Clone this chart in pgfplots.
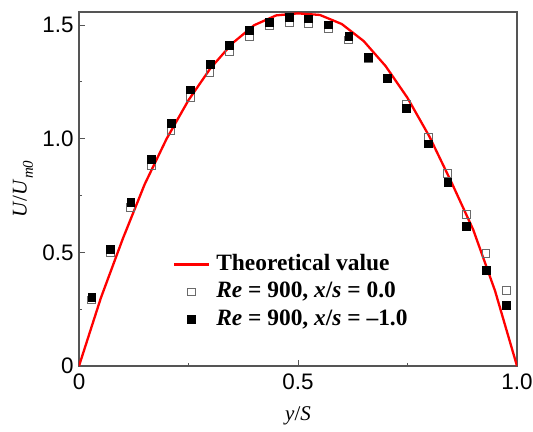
\documentclass[border=0pt]{standalone}
\usepackage{fontspec}
\setmainfont{Liberation Serif}
\newfontfamily\ticksans{Liberation Sans}
\usepackage{pgfplots}
\pgfplotsset{compat=1.18}
\definecolor{frame}{HTML}{555555}
\definecolor{openedge}{HTML}{6A6A6A}
\begin{document}
\begin{tikzpicture}
\begin{axis}[
  at={(0,0)}, anchor=south west,
  scale only axis, width=438bp, height=354bp,
  xmin=0, xmax=1, ymin=0, ymax=1.558,
  xtick={0,0.5,1}, xticklabels={0,0.5,1.0},
  ytick={0,0.5,1,1.5}, yticklabels={0,0.5,1.0,1.5},
  minor xtick={0.25,0.75}, minor ytick={0.25,0.75,1.25},
  tick align=inside, xtick pos=bottom, ytick pos=left,
  major tick length=6bp, minor tick length=3bp,
  axis line style={draw=frame, line width=1.1bp},
  every tick/.style={draw=frame, line width=1bp},
  tick label style={font=\ticksans\fontsize{22.5}{26}\selectfont, text=black},
  xticklabel style={yshift=-4bp},
  yticklabel style={xshift=-2bp},
  xlabel={\textit{y}/\textit{S}},
  ylabel={\textit{U}/\textit{U}\raisebox{-0.3em}{\fontsize{15}{15}\selectfont\textit{m0}}},
  label style={font=\fontsize{21}{24}\selectfont},
  xlabel style={at={(axis description cs:0.5,-0.141)}, anchor=center},
  ylabel style={at={(axis description cs:-0.128,0.5)}, anchor=center},
  legend image code/.code={\draw[mark repeat=2,mark phase=2,#1] plot coordinates {(0bp,0bp) (17.5bp,0bp) (35bp,0bp)};},
  legend style={draw=none, fill=none, inner sep=0pt, outer sep=0pt,
    at={(rel axis cs:0.2146,0.325)}, anchor=north west,
    column sep=4bp, row sep=0pt,
    font=\fontsize{23.5}{27}\selectfont\bfseries,
    nodes={inner sep=2bp, text height=17.5bp, text depth=5.8bp}},
  legend cell align=left,
]
% analytical profile
\addplot[red, line width=2.3bp] coordinates {
  (0,0) (0.05,0.30) (0.10,0.56) (0.15,0.80) (0.20,1.00) (0.25,1.17)
  (0.30,1.31) (0.35,1.42) (0.40,1.50) (0.45,1.543) (0.50,1.552)
  (0.55,1.545) (0.60,1.505) (0.65,1.43) (0.70,1.32) (0.75,1.18)
  (0.80,1.01) (0.85,0.81) (0.90,0.60) (0.95,0.33) (1.00,0)
};
\addlegendentry{Theoretical value}
% measured, x/s = 0.0
\addplot[only marks, mark=square, mark size=3.9bp,
  mark options={draw=openedge, fill=white, line width=0.9bp}] coordinates {
  (0.029,0.291) (0.071,0.499) (0.118,0.699) (0.165,0.882) (0.210,1.038)
  (0.254,1.182) (0.299,1.291) (0.343,1.383) (0.389,1.451) (0.434,1.498)
  (0.480,1.512) (0.524,1.507) (0.569,1.487) (0.616,1.435) (0.661,1.352)
  (0.704,1.268) (0.747,1.150) (0.797,1.007) (0.842,0.847) (0.885,0.668)
  (0.929,0.496) (0.975,0.332)
};
\addlegendentry{\textit{Re} = 900, \textit{x}/\textit{s} = 0.0}
% measured, x/s = -1.0
\addplot[only marks, mark=square*, mark size=3.9bp,
  mark options={draw=black, fill=black, line width=0.5bp}] coordinates {
  (0.029,0.303) (0.071,0.515) (0.118,0.719) (0.165,0.911) (0.210,1.070)
  (0.254,1.216) (0.299,1.329) (0.343,1.411) (0.389,1.476) (0.434,1.514)
  (0.480,1.534) (0.524,1.528) (0.569,1.502) (0.616,1.451) (0.661,1.360)
  (0.704,1.267) (0.747,1.135) (0.797,0.978) (0.842,0.808) (0.885,0.614)
  (0.929,0.423) (0.975,0.269)
};
\addlegendentry{\textit{Re} = 900, \textit{x}/\textit{s} = –1.0}
\end{axis}
\pgfresetboundingbox
\path (-79bp,-66bp) rectangle (454bp,366bp);
\end{tikzpicture}
\end{document}
